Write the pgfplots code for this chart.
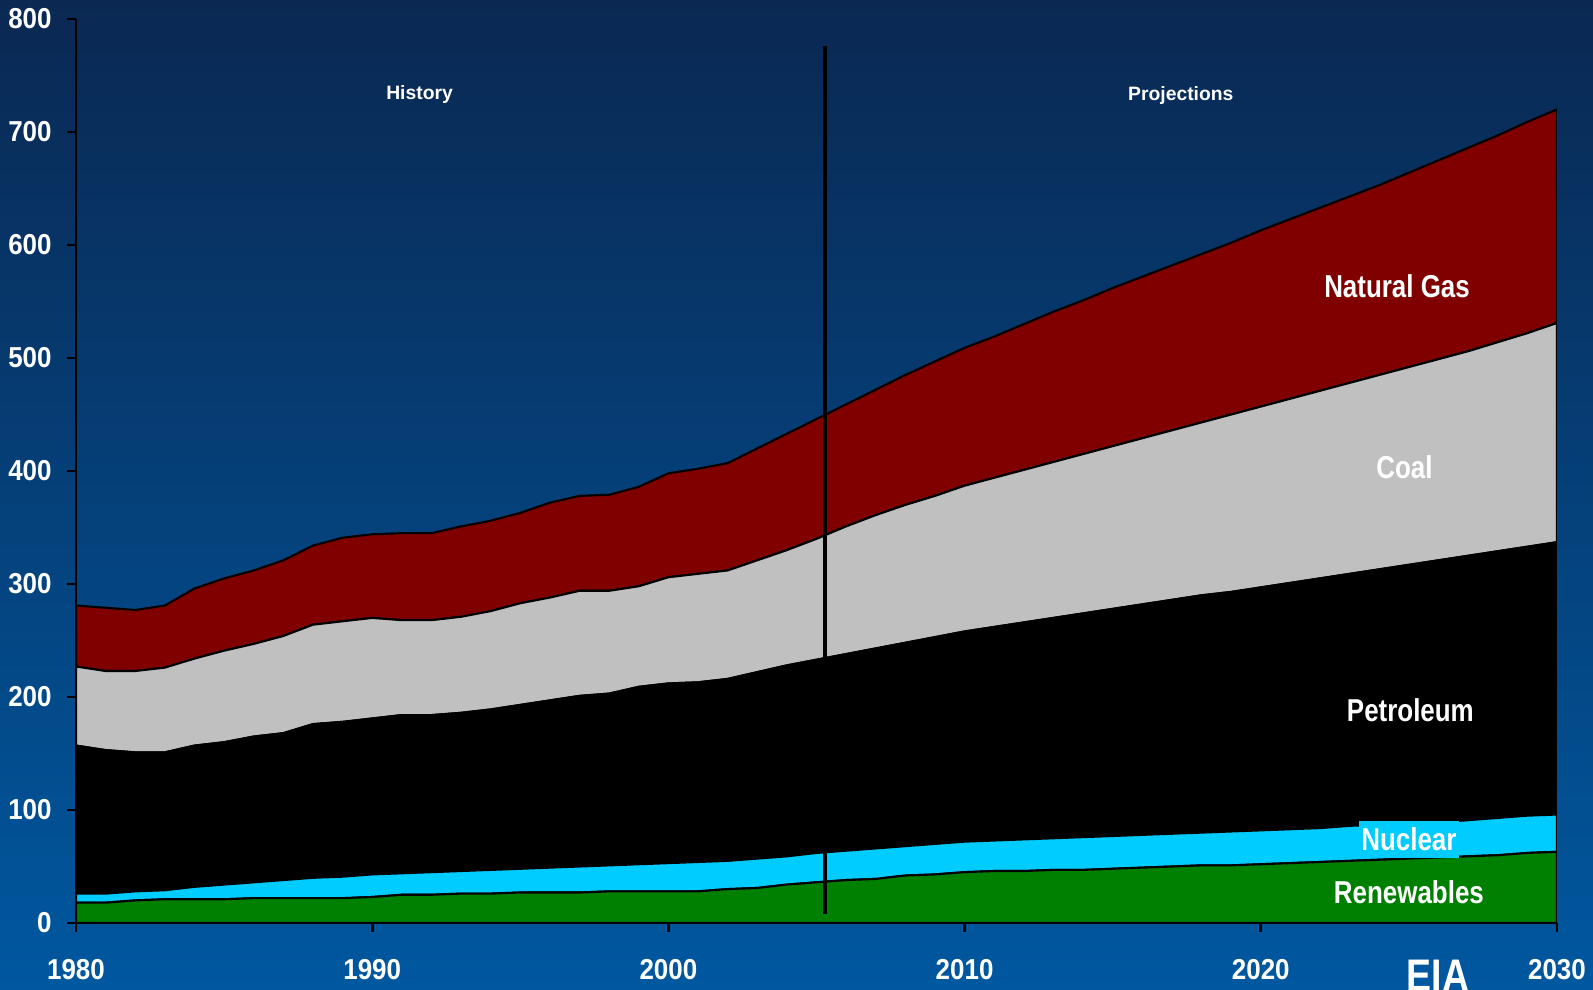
\documentclass[border=0pt]{standalone}
\usepackage{pgfplots}
\pgfplotsset{compat=1.18}
\usepackage{pgfplotstable}
\usepackage{fontspec}
\setmainfont{Liberation Sans}
\newfontfamily\narrowfont[FakeStretch=0.82]{Liberation Sans}
\newfontfamily\tickfont[FakeStretch=0.9]{Liberation Sans}
\definecolor{bgtop}{RGB}{10,40,82}
\definecolor{bgbot}{RGB}{0,88,160}
\definecolor{renew}{RGB}{0,128,0}
\definecolor{nuc}{RGB}{0,204,255}
\definecolor{coalc}{RGB}{192,192,192}
\definecolor{gasc}{RGB}{128,0,0}

% components (stacked): renewables, nuclear, petroleum, coal, natural gas
\pgfplotstableread{
year ren nuc pet coal gas
1980 18 8 131 70 54
1981 18 8 127 70 56
1982 20 8 123 72 54
1983 21 8 122 75 55
1984 21 11 125 77 62
1985 21 13 126 81 64
1986 22 14 129 82 65
1987 22 16 130 86 67
1988 22 18 136 88 70
1989 22 19 137 89 74
1990 23 20 138 89 74
1991 25 19 140 84 77
1992 25 20 139 84 77
1993 26 20 140 85 80
1994 26 21 142 87 80
1995 27 21 145 90 80
1996 27 22 148 91 84
1997 27 23 151 93 84
1998 28 23 152 91 85
1999 28 24 157 89 88
2000 28 25 159 94 92
2001 28 26 159 96 93
2002 30 25 161 96 95
2003 31 26 165 99 99
2004 34 25 169 102 103
2005 36 26 171 107 106
2006 38 26 174 113 108
2007 39 27 177 118 111
2008 42 26 180 122 115
2009 43 27 183 125 119
2010 45 27 186 129 122
2011 46 27 189 132 125
2012 46 28 192 135 129
2013 47 28 195 138 133
2014 47 29 198 141 136
2015 48 29 201 144 140
2016 49 29 204 147 143
2017 50 29 207 150 146
2018 51 29 210 153 149
2019 51 30 212 157 152
2020 52 30 215 160 156
2021 53 30 218 163 159
2022 54 30 221 166 162
2023 55 31 223 169 165
2024 56 31 226 172 168
2025 57 31 229 175 172
2026 58 31 232 178 176
2027 59 32 234 181 180
2028 60 33 236 185 183
2029 62 33 238 189 187
2030 63 33 241 194 189
}\energy

\begin{document}
\begin{tikzpicture}[
    lbl/.style={text=white, font=\narrowfont\bfseries\fontsize{9}{10}\selectfont},
    sml/.style={text=white, font=\bfseries\fontsize{5.5}{6}\selectfont},
    ]
\shade[top color=bgtop, bottom color=bgbot] (-0.76cm,-0.67cm) rectangle (15.17cm,9.23cm);
\begin{axis}[
    scale only axis,
    width=14.81cm,
    height=9.04cm,
    xmin=1980, xmax=2030,
    ymin=0, ymax=800,
    axis x line*=bottom,
    axis y line*=left,
    axis line style={black, line width=0.8pt},
    xtick={1980,1990,...,2030},
    ytick={0,100,...,800},
    tick align=outside,
    major tick length=0.09cm,
    tick style={black, line width=0.8pt},
    /pgf/number format/assume math mode=true,
    /pgf/number format/1000 sep={},
    ticklabel style={text=white, font=\tickfont\bfseries\fontsize{8.2}{9}\selectfont},
    xticklabel style={yshift=-0.15cm},
    yticklabel style={xshift=-0.03cm},
    stack plots=y,
    area style,
    every axis plot/.append style={draw=black, line width=0.6pt},
    ]
    \addplot[fill=renew] table[x=year, y=ren] {\energy} \closedcycle;
    \addplot[fill=nuc] table[x=year, y=nuc] {\energy} \closedcycle;
    \addplot[fill=black] table[x=year, y=pet] {\energy} \closedcycle;
    \addplot[fill=coalc] table[x=year, y=coal] {\energy} \closedcycle;
    \addplot[fill=gasc] table[x=year, y=gas] {\energy} \closedcycle;
    \coordinate (vb) at (axis cs:2005.3,8);
    \coordinate (vt) at (axis cs:2005.3,776);
    \coordinate (hist) at (axis cs:1991.6,733);
    \coordinate (proj) at (axis cs:2017.3,732);
    \coordinate (lgas) at (axis cs:2024.6,564);
    \coordinate (lcoal) at (axis cs:2024.85,403);
    \coordinate (lpet) at (axis cs:2025.05,188);
    \coordinate (lnuc) at (axis cs:2025,74);
    \coordinate (lren) at (axis cs:2025,27);
\end{axis}
\draw[black, line width=1.1pt] (vb) -- (vt);
\node[sml] at (hist) {History};
\node[sml] at (proj) {Projections};
\node[lbl] at (lgas) {Natural Gas};
\node[lbl] at (lcoal) {Coal};
\node[lbl] at (lpet) {Petroleum};
\node[lbl, fill=nuc, inner xsep=0.6pt, inner ysep=2pt] at (lnuc) {Nuclear};
\node[lbl] at (lren) {Renewables};
\node[anchor=north, inner sep=0pt, text=white, font=\narrowfont\bfseries\fontsize{13}{13}\selectfont] at (13.62cm,-0.36cm) {EIA};
\pgfresetboundingbox
\useasboundingbox (-0.76cm,-0.67cm) rectangle (15.17cm,9.23cm);
\end{tikzpicture}
\end{document}
